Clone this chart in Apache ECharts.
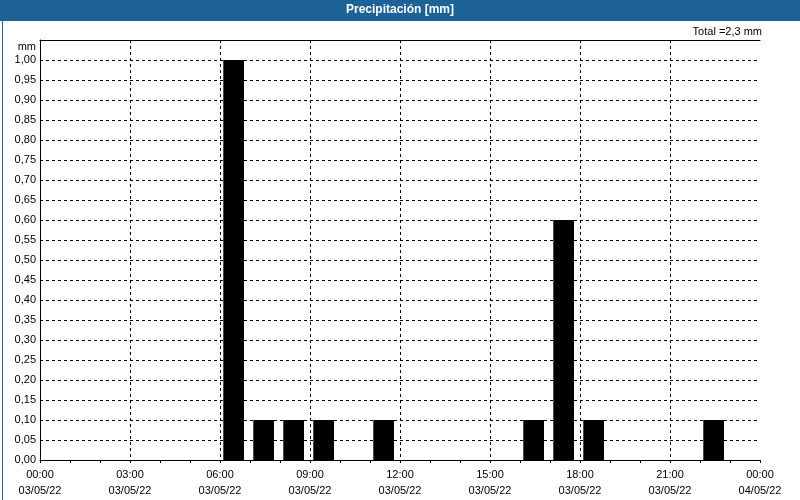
<!DOCTYPE html>
<html>
<head>
<meta charset="utf-8">
<script src="https://cdn.jsdelivr.net/npm/echarts@6/dist/echarts.min.js"></script>
<style>
html,body{margin:0;padding:0;background:#fff;}
#chart{width:800px;height:500px;}
</style>
</head>
<body>
<div id="chart"></div>
<script>
// Data
const chartTitle = 'Precipitación [mm]';
const totalText = 'Total =2,3 mm';
const unitLabel = 'mm';
const dayLabels = ['03/05/22', '04/05/22'];
// precipitation per hour (hour index 0..23) on 03/05/22
const hourValues = [0,0,0,0,0,0,1.0,0.1,0.1,0.1,0,0.1,0,0,0,0,0.1,0.6,0.1,0,0,0,0.1,0];

const FONT = 'Liberation Sans';
const barData = hourValues.map((v, h) => [h, v]).filter(d => d[1] > 0);

function fmtNum(v) { return v.toFixed(2).replace('.', ','); }
function pad(n) { return (n < 10 ? '0' : '') + n; }

const chart = echarts.init(document.getElementById('chart'));
chart.setOption({
  animation: false,
  backgroundColor: '#ffffff',
  textStyle: { fontFamily: FONT },
  graphic: [
    { type: 'rect', left: 0, top: 0, shape: { width: 800, height: 21 }, style: { fill: '#1d6296' }, z: 10 },
    { type: 'rect', left: 0, top: 0, shape: { x: 0.5, y: 0.5, width: 799, height: 499 }, style: { fill: 'none', stroke: '#1d6296', lineWidth: 1 }, z: 10 },
    { type: 'text', left: 'center', top: 4, style: { text: chartTitle, fill: '#ffffff', font: 'bold 12px "' + FONT + '"' }, z: 11 },
    { type: 'text', right: 38, top: 26, style: { text: totalText, fill: '#000', font: '11px "' + FONT + '"' }, z: 11 }
  ],
  grid: { left: 40, right: 40, top: 40, bottom: 40, containLabel: false },
  xAxis: [{
    type: 'value', min: 0, max: 24, interval: 3,
    axisLine: { show: true, lineStyle: { color: '#000', width: 1 } },
    axisTick: { show: true, length: 3, lineStyle: { color: '#000' } },
    minorTick: { show: true, splitNumber: 3, length: 3, lineStyle: { color: '#000' } },
    axisLabel: {
      color: '#000', fontSize: 11, fontFamily: FONT, margin: 7, lineHeight: 16,
      formatter: v => v >= 24 ? '00:00\n' + dayLabels[1] : pad(v) + ':00\n' + dayLabels[0]
    },
    splitLine: { show: true, showMinLine: false, showMaxLine: false, lineStyle: { color: '#000', type: [3, 3], width: 1 } }
  }, {
    type: 'value', position: 'top', min: 0, max: 24,
    axisLine: { show: true, lineStyle: { color: '#000', width: 1 } },
    axisTick: { show: false }, axisLabel: { show: false }, splitLine: { show: false }
  }],
  yAxis: {
    type: 'value', min: 0, max: 1.05, interval: 0.05,
    name: unitLabel, nameLocation: 'end', nameGap: -7,
    nameTextStyle: { color: '#000', fontSize: 11, fontFamily: FONT, align: 'right', padding: [0, 4, 0, 0], verticalAlign: 'middle' },
    axisLine: { show: true, lineStyle: { color: '#000', width: 1 } },
    axisTick: { show: false },
    axisLabel: { color: '#000', fontSize: 11, fontFamily: FONT, margin: 4, formatter: v => v > 1.001 ? '' : fmtNum(v) },
    splitLine: { show: true, showMinLine: false, lineStyle: { color: '#000', type: [3, 3], width: 1 } }
  },
  series: [{
    type: 'custom',
    data: barData,
    renderItem: function (params, api) {
      const h = api.value(0), v = api.value(1);
      const p1 = api.coord([h + 0.11, v]);
      const p2 = api.coord([h + 0.8, 0]);
      return { type: 'rect', shape: { x: p1[0], y: p1[1], width: p2[0] - p1[0], height: p2[1] - p1[1] }, style: { fill: '#000' } };
    },
    encode: { x: 0, y: 1 },
    z: 5
  }]
});
</script>
</body>
</html>
